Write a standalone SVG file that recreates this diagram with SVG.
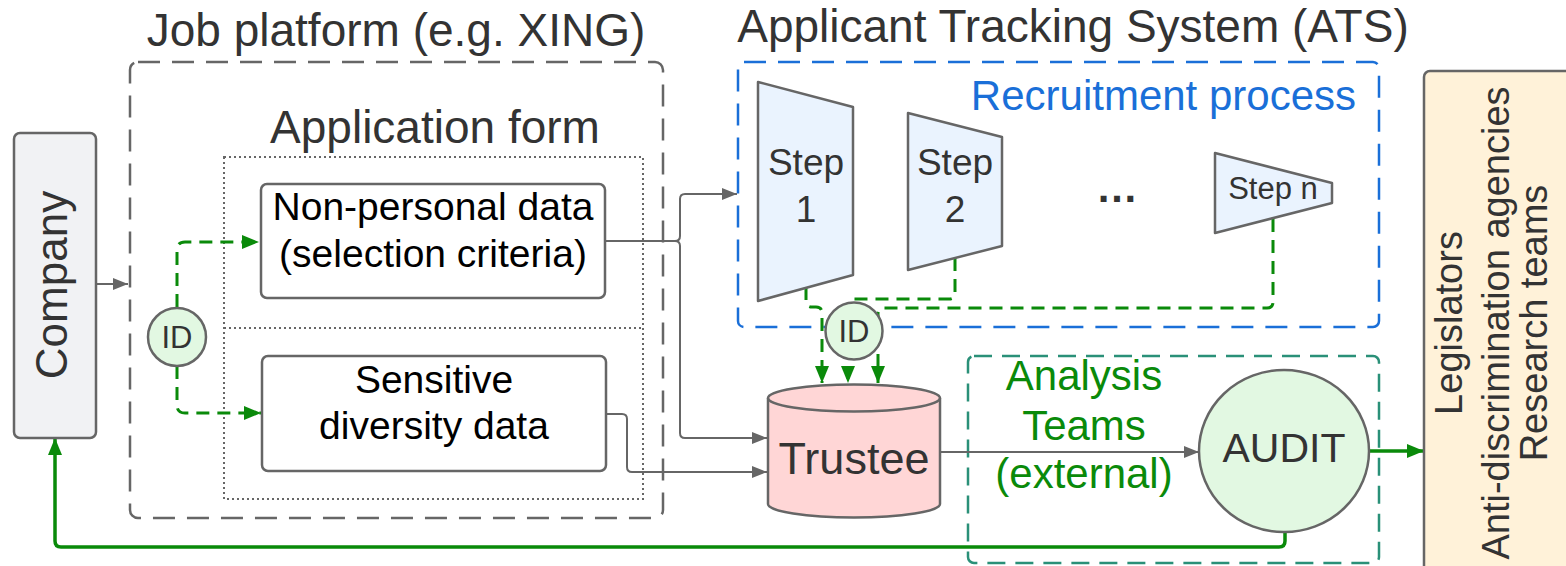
<svg xmlns="http://www.w3.org/2000/svg" width="1566" height="566" viewBox="0 0 1566 566">
<defs>
<marker id="ag" markerUnits="userSpaceOnUse" markerWidth="16" markerHeight="14" refX="15" refY="7" orient="auto"><path d="M0 1 L15 7 L0 13 Z" fill="#666"/></marker>
<marker id="agr" markerUnits="userSpaceOnUse" markerWidth="18" markerHeight="16" refX="17" refY="8" orient="auto"><path d="M0 1 L17 8 L0 15 Z" fill="#0a8a0a"/></marker>
</defs>
<style>
.t{font-family:"Liberation Sans",Arial,sans-serif;fill:#333;text-anchor:middle}
.b{font-family:"Liberation Sans",Arial,sans-serif;fill:#000;text-anchor:middle;font-size:39px}
.node{stroke:#666;stroke-width:2.5;stroke-linejoin:round}
.gc{fill:none;stroke:#666;stroke-width:2}
.gd{fill:none;stroke:#0a8a0a;stroke-width:3;stroke-dasharray:13 8}
.gs{fill:none;stroke:#0a8a0a;stroke-width:3.5}
.gt{font-family:"Liberation Sans",Arial,sans-serif;fill:#0a8a0a;text-anchor:middle;font-size:42px}
</style>
<rect width="1566" height="566" fill="#fff"/>

<g id="job-platform">
<rect x="130" y="62" width="533" height="456" rx="8" fill="none" stroke="#666" stroke-width="2.5" stroke-dasharray="22 12"/>
<text class="t" x="396" y="46" font-size="46">Job platform (e.g. XING)</text>
</g>
<g id="application-form">
<rect x="224" y="157" width="419" height="342" fill="none" stroke="#666" stroke-width="2" stroke-dasharray="2 3"/>
<line x1="224" y1="328" x2="643" y2="328" stroke="#666" stroke-width="2" stroke-dasharray="2 3"/>
<text class="t" x="435" y="143" font-size="46">Application form</text>
</g>
<g id="ats">
<rect x="738" y="62" width="641" height="265" rx="6" fill="none" stroke="#1a6fd8" stroke-width="2.5" stroke-dasharray="22 12"/>
<text class="t" x="1073" y="42" font-size="46">Applicant Tracking System (ATS)</text>
<text x="1356" y="110" font-size="42" font-family="'Liberation Sans',Arial,sans-serif" fill="#1a6fd8" text-anchor="end">Recruitment process</text>
</g>
<g id="analysis-teams">
<rect x="968" y="356" width="411" height="207" rx="6" fill="none" stroke="#2a9078" stroke-width="2.5" stroke-dasharray="18 10"/>
<text class="gt" x="1084" y="390">Analysis</text>
<text class="gt" x="1084" y="440">Teams</text>
<text class="gt" x="1084" y="488">(external)</text>
</g>

<g id="connectors">
<path class="gc" d="M96 284 H128" marker-end="url(#ag)"/>
<path class="gd" d="M177 307 V250 Q177 242 185 242 H259" marker-end="url(#agr)"/>
<path class="gd" d="M177 366 V405 Q177 413 185 413 H261" marker-end="url(#agr)"/>
<path class="gc" d="M605 241 H675 Q680 241 680 236 V199 Q680 194 685 194 H737" marker-end="url(#ag)"/>
<path class="gc" d="M675 241 Q680 241 680 246 V433 Q680 438 685 438 H767" marker-end="url(#ag)"/>
<path class="gc" d="M606 414 H622 Q627 414 627 419 V467 Q627 472 632 472 H767" marker-end="url(#ag)"/>
<path class="gc" d="M940 452 H1199" marker-end="url(#ag)"/>
<path class="gs" d="M1370 451 H1424" marker-end="url(#agr)"/>
<path class="gs" d="M1285 532 V541 Q1285 547 1279 547 H61 Q55 547 55 541 V438" marker-end="url(#agr)"/>
<path class="gd" d="M806 287 V301 Q806 307 812 307 H816 Q822 307 822 313 V383" marker-end="url(#agr)"/>
<path class="gd" d="M955 258 V293 Q955 299 949 299 H854 Q848 299 848 305 V383" marker-end="url(#agr)"/>
<path class="gd" d="M1273 219 V302 Q1273 308 1267 308 H884 Q878 308 878 314 V383" marker-end="url(#agr)"/>
</g>

<g id="company">
<rect class="node" x="14" y="133" width="82" height="305" rx="6" fill="#f1f2f4"/>
<text class="t" font-size="44" transform="translate(67,285) rotate(-90)">Company</text>
</g>
<g id="non-personal-data">
<rect class="node" x="261" y="184" width="344" height="114" rx="6" fill="#fff"/>
<text class="b" x="433" y="220">Non-personal data</text>
<text class="b" x="433" y="267">(selection criteria)</text>
</g>
<g id="sensitive-data">
<rect class="node" x="262" y="356" width="344" height="115" rx="6" fill="#fff"/>
<text class="b" x="434" y="393">Sensitive</text>
<text class="b" x="434" y="439">diversity data</text>
</g>
<g id="id-form">
<circle class="node" cx="177" cy="337" r="29" fill="#e2f8e2"/>
<text class="t" x="177" y="348" font-size="31">ID</text>
</g>
<g id="step-1">
<path class="node" d="M758 82 L853 107 L853 275 L758 301 Z" fill="#eaf3fe"/>
<text class="t" x="806" y="175" font-size="37">Step</text>
<text class="t" x="806" y="222" font-size="37">1</text>
</g>
<g id="step-2">
<path class="node" d="M908 113 L1002 137 L1002 246 L908 270 Z" fill="#eaf3fe"/>
<text class="t" x="955" y="175" font-size="37">Step</text>
<text class="t" x="955" y="222" font-size="37">2</text>
</g>
<g id="ellipsis">
<text x="1117" y="202" font-size="42" font-weight="bold" font-family="'Liberation Sans',sans-serif" fill="#333" text-anchor="middle">…</text>
</g>
<g id="step-n">
<path class="node" d="M1215 153 L1332 183 L1332 203 L1215 233 Z" fill="#eaf3fe"/>
<text class="t" x="1273" y="199" font-size="31">Step n</text>
</g>
<g id="id-ats">
<circle class="node" cx="854" cy="331" r="28.5" fill="#e2f8e2"/>
<text class="t" x="854" y="342" font-size="31">ID</text>
</g>
<g id="trustee">
<path class="node" d="M768 398 A86 13.5 0 0 1 940 398 V504 A86 13.5 0 0 1 768 504 Z" fill="#ffd6d6"/>
<path class="node" d="M768 398 A86 13.5 0 0 0 940 398" fill="none"/>
<text class="t" x="854" y="474" font-size="45">Trustee</text>
</g>
<g id="audit">
<ellipse class="node" cx="1284" cy="451" rx="85" ry="81" fill="#e2f8e2"/>
<text class="t" x="1284" y="462" font-size="41">AUDIT</text>
</g>
<g id="legislators">
<rect class="node" x="1424" y="71" width="160" height="520" rx="6" fill="#fff2d9"/>
<text class="t" font-size="38" transform="translate(1462,323) rotate(-90)">Legislators</text>
<text class="t" font-size="38" transform="translate(1509,323) rotate(-90)">Anti-discrimination agencies</text>
<text class="t" font-size="38" transform="translate(1547,323) rotate(-90)">Research teams</text>
</g>
</svg>
